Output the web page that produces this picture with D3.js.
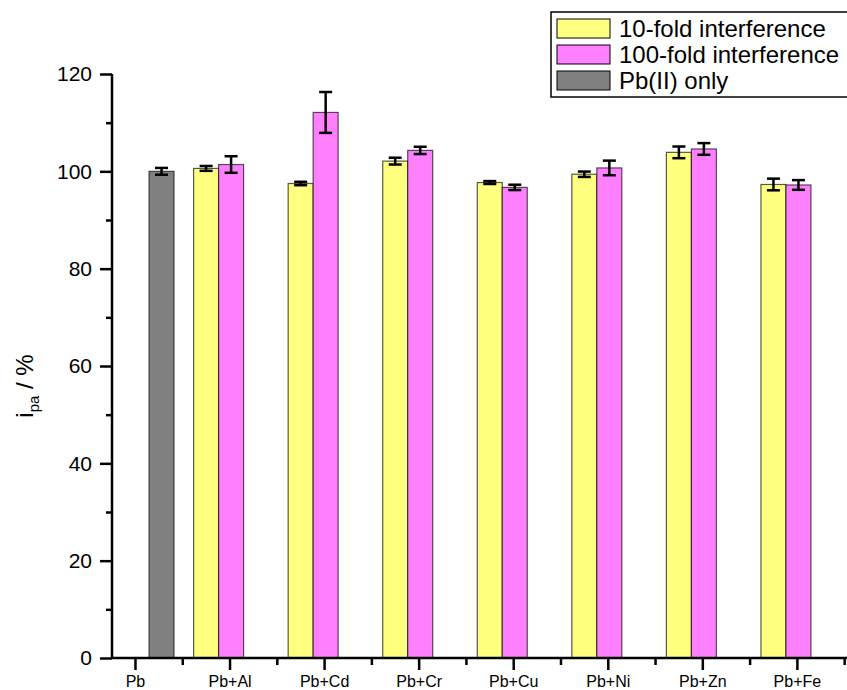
<!DOCTYPE html>
<html>
<head>
<meta charset="utf-8">
<script src="https://cdn.jsdelivr.net/npm/d3@7"></script>
<style>
  body { margin: 0; background: #fff; }
  svg { display: block; font-family: Arial, "Liberation Sans", sans-serif; }
</style>
</head>
<body>
<div id="main"></div>
<script>
// data
const categories = ['Pb', 'Pb+Al', 'Pb+Cd', 'Pb+Cr', 'Pb+Cu', 'Pb+Ni', 'Pb+Zn', 'Pb+Fe']
const fold10 = [null, 100.6, 97.5, 102.1, 97.7, 99.4, 103.9, 97.3]
const fold10Err = [null, 0.5, 0.35, 0.7, 0.3, 0.55, 1.2, 1.2]
const fold100 = [null, 101.4, 112.1, 104.3, 96.7, 100.7, 104.6, 97.2]
const fold100Err = [null, 1.7, 4.2, 0.75, 0.55, 1.5, 1.2, 1.0]
const pbOnly = [100.0, null, null, null, null, null, null, null]
const pbOnlyErr = [0.7, null, null, null, null, null, null, null]
const seriesNames = ['10-fold interference', '100-fold interference', 'Pb(II) only']
const yTicks = [0, 20, 40, 60, 80, 100, 120]
const yMinorTicks = [10, 30, 50, 70, 90, 110]

const colors = ['#ffff80', '#ff80ff', '#808080']
const width = 847
const height = 690
const margin = { top: 74, bottom: 32, left: 112, right: 0 }

const svg = d3.select('#main').append('svg')
  .attr('width', width)
  .attr('height', height)

const xScale = d3.scaleLinear().domain([0.757, 8.53]).range([margin.left, width - margin.right])
const yScale = d3.scaleLinear().domain([0, 120]).range([height - margin.bottom, margin.top])
const sub = d3.scaleBand().domain([0, 1, 2]).range([-0.38, 0.413])

const series = [
  { values: fold10, errs: fold10Err },
  { values: fold100, errs: fold100Err },
  { values: pbOnly, errs: pbOnlyErr }
]

const bars = []
series.forEach((s, k) => {
  s.values.forEach((v, i) => {
    if (v != null) bars.push({ k, i, v, e: s.errs[i] })
  })
})

const gBars = svg.append('g')
gBars.selectAll('rect')
  .data(bars)
  .enter()
  .append('rect')
  .attr('x', d => xScale(d.i + 1 + sub(d.k)))
  .attr('width', d => xScale(d.i + 1 + sub(d.k) + sub.bandwidth()) - xScale(d.i + 1 + sub(d.k)))
  .attr('y', d => yScale(d.v))
  .attr('height', d => yScale(0) - yScale(d.v))
  .attr('fill', d => colors[d.k])
  .attr('stroke', '#000')
  .attr('stroke-opacity', 0.65)
  .attr('stroke-width', 1.2)

// error bars
const gErr = svg.append('g').attr('stroke', '#000').attr('stroke-width', 2.5)
const cx = d => xScale(d.i + 1 + sub(d.k) + sub.bandwidth() / 2)
gErr.selectAll('.stem').data(bars).enter().append('line')
  .attr('x1', cx).attr('x2', cx)
  .attr('y1', d => yScale(d.v + d.e)).attr('y2', d => yScale(d.v - d.e))
gErr.selectAll('.capt').data(bars).enter().append('line')
  .attr('x1', d => cx(d) - 6.5).attr('x2', d => cx(d) + 6.5)
  .attr('y1', d => yScale(d.v + d.e)).attr('y2', d => yScale(d.v + d.e))
gErr.selectAll('.capb').data(bars).enter().append('line')
  .attr('x1', d => cx(d) - 6.5).attr('x2', d => cx(d) + 6.5)
  .attr('y1', d => yScale(d.v - d.e)).attr('y2', d => yScale(d.v - d.e))

// y axis
const yAxis = svg.append('g')
  .attr('transform', `translate(${margin.left},0)`)
  .call(d3.axisLeft(yScale).tickValues(yTicks).tickSize(12).tickPadding(8).tickFormat(d3.format('d')))
yAxis.select('.domain').attr('d', `M0,${yScale(0)}V${yScale(120)}`).attr('stroke-width', 2.5)
yAxis.selectAll('.tick line').attr('stroke-width', 2.5)
yAxis.selectAll('.tick text').attr('font-size', 21).attr('fill', '#000').attr('font-family', 'Arial, "Liberation Sans", sans-serif')
svg.append('g')
  .attr('transform', `translate(${margin.left},0)`)
  .call(d3.axisLeft(yScale).tickValues(yMinorTicks).tickSize(6).tickFormat(''))
  .call(g => g.select('.domain').remove())
  .selectAll('.tick line').attr('stroke-width', 2.5)

// x axis
const xMajor = d3.range(1, categories.length + 1)
const xMinor = xMajor.map(d => d + 0.5)
const xAxis = svg.append('g')
  .attr('transform', `translate(0,${yScale(0)})`)
  .call(d3.axisBottom(xScale).tickValues(xMajor).tickSize(12).tickPadding(6).tickFormat(d => categories[d - 1]))
xAxis.select('.domain').attr('d', `M${margin.left},0H${width}`).attr('stroke-width', 2.5)
xAxis.selectAll('.tick line').attr('stroke-width', 2.5)
xAxis.selectAll('.tick text').attr('font-size', 16).attr('fill', '#000').attr('font-family', 'Arial, "Liberation Sans", sans-serif')
svg.append('g')
  .attr('transform', `translate(0,${yScale(0)})`)
  .call(d3.axisBottom(xScale).tickValues(xMinor).tickSize(7).tickFormat(''))
  .call(g => g.select('.domain').remove())
  .selectAll('.tick line').attr('stroke-width', 2.5)

// y title
const yTitle = svg.append('text')
  .attr('transform', `translate(33,${(yScale(0) + yScale(120)) / 2 + 20}) rotate(-90)`)
  .attr('text-anchor', 'middle')
  .attr('font-size', 24)
  .attr('fill', '#000')
yTitle.append('tspan').text('i')
yTitle.append('tspan').attr('font-size', 15).attr('dy', 6).text('pa')
yTitle.append('tspan').attr('dy', -6).text(' / %')

// legend
const legend = svg.append('g')
legend.append('rect')
  .attr('x', 551).attr('y', 12)
  .attr('width', 320).attr('height', 85)
  .attr('fill', 'none').attr('stroke', '#000').attr('stroke-width', 1.5)
const rows = legend.selectAll('.row')
  .data(seriesNames)
  .enter()
  .append('g')
  .attr('transform', (d, i) => `translate(557,${19 + i * 26})`)
rows.append('rect')
  .attr('width', 53).attr('height', 19)
  .attr('fill', (d, i) => colors[i])
  .attr('stroke', '#000').attr('stroke-width', 1)
rows.append('text')
  .attr('x', 62).attr('y', 18)
  .attr('font-size', 24)
  .attr('fill', '#000')
  .text(d => d)
</script>
</body>
</html>
